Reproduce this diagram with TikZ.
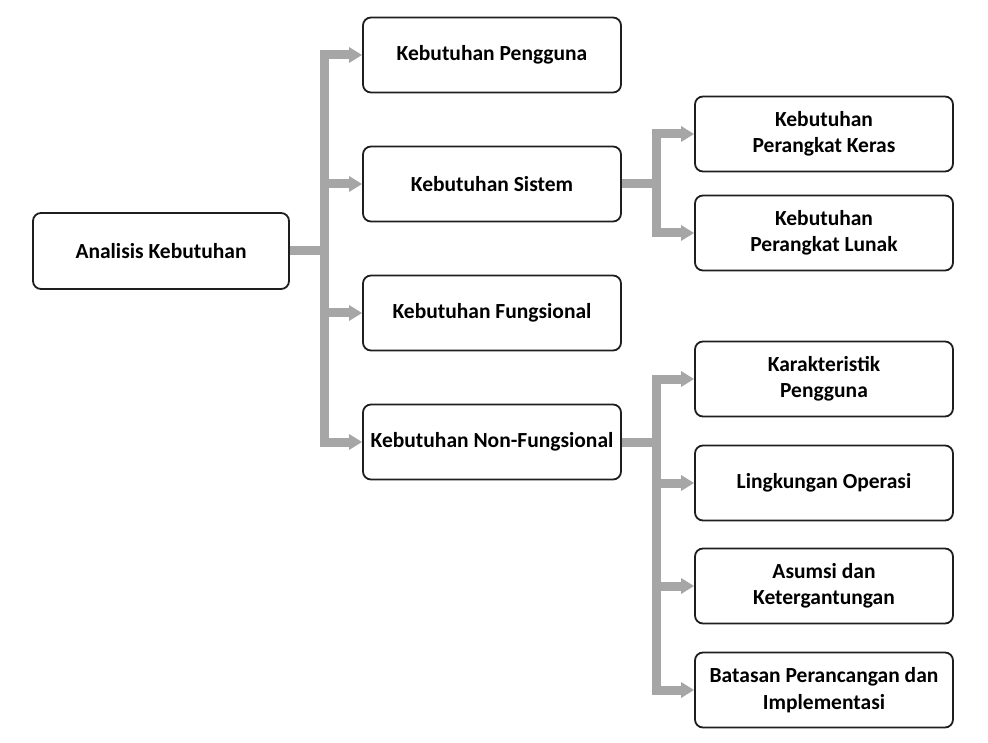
\documentclass[tikz,border=0pt]{standalone}
\usepackage{fontspec}
\setmainfont{Carlito}
\usetikzlibrary{arrows.meta}
\definecolor{linkgray}{RGB}{166,166,166}
\definecolor{boxline}{RGB}{30,30,30}

\begin{document}
\begin{tikzpicture}[x=1pt, y=-1pt,
    box/.style={draw=boxline, line width=1.8pt, rounded corners=8pt,
      minimum width=258pt, minimum height=75pt, align=center,
      font=\fontsize{21.5}{26.5}\selectfont\bfseries},
    link/.style={draw=linkgray, line width=9pt},
    >={Triangle[length=13pt, width=15pt]}]

     \useasboundingbox (0, 0) rectangle (988, 743);

     \node (A) at (161, 251) [box, minimum width=256pt, minimum height=76pt] {Analisis Kebutuhan};

     \node (B) at (492, 55) [box] {Kebutuhan Pengguna};
     \node (C) at (492, 184) [box] {Kebutuhan Sistem};
     \node (D) at (492, 313) [box] {Kebutuhan Fungsional};
     \node (E) at (492, 442) [box] {Kebutuhan Non-Fungsional};

     \node (F) at (824, 134) [box] {Kebutuhan\\Perangkat Keras};
     \node (G) at (824, 233) [box] {Kebutuhan\\Perangkat Lunak};
     \node (H) at (824, 379) [box] {Karakteristik\\Pengguna};
     \node (I) at (824, 483) [box] {Lingkungan Operasi};
     \node (J) at (824, 586) [box] {Asumsi dan\\Ketergantungan};
     \node (K) at (824, 690) [box] {Batasan Perancangan dan\\Implementasi};

     \coordinate (T1) at (324.5, 251);
     \coordinate (T2) at (656.5, 184);
     \coordinate (T3) at (656.5, 442);

     \draw [link] (A) -- (T1);
     \draw [link, ->] (T1) |- (B);
     \draw [link, ->] (T1) |- (C);
     \draw [link, ->] (T1) |- (D);
     \draw [link, ->] (T1) |- (E);

     \draw [link] (C) -- (T2);
     \draw [link, ->] (T2) |- (F);
     \draw [link, ->] (T2) |- (G);

     \draw [link] (E) -- (T3);
     \draw [link, ->] (T3) |- (H);
     \draw [link, ->] (T3) |- (I);
     \draw [link, ->] (T3) |- (J);
     \draw [link, ->] (T3) |- (K);

\end{tikzpicture}
\end{document}
